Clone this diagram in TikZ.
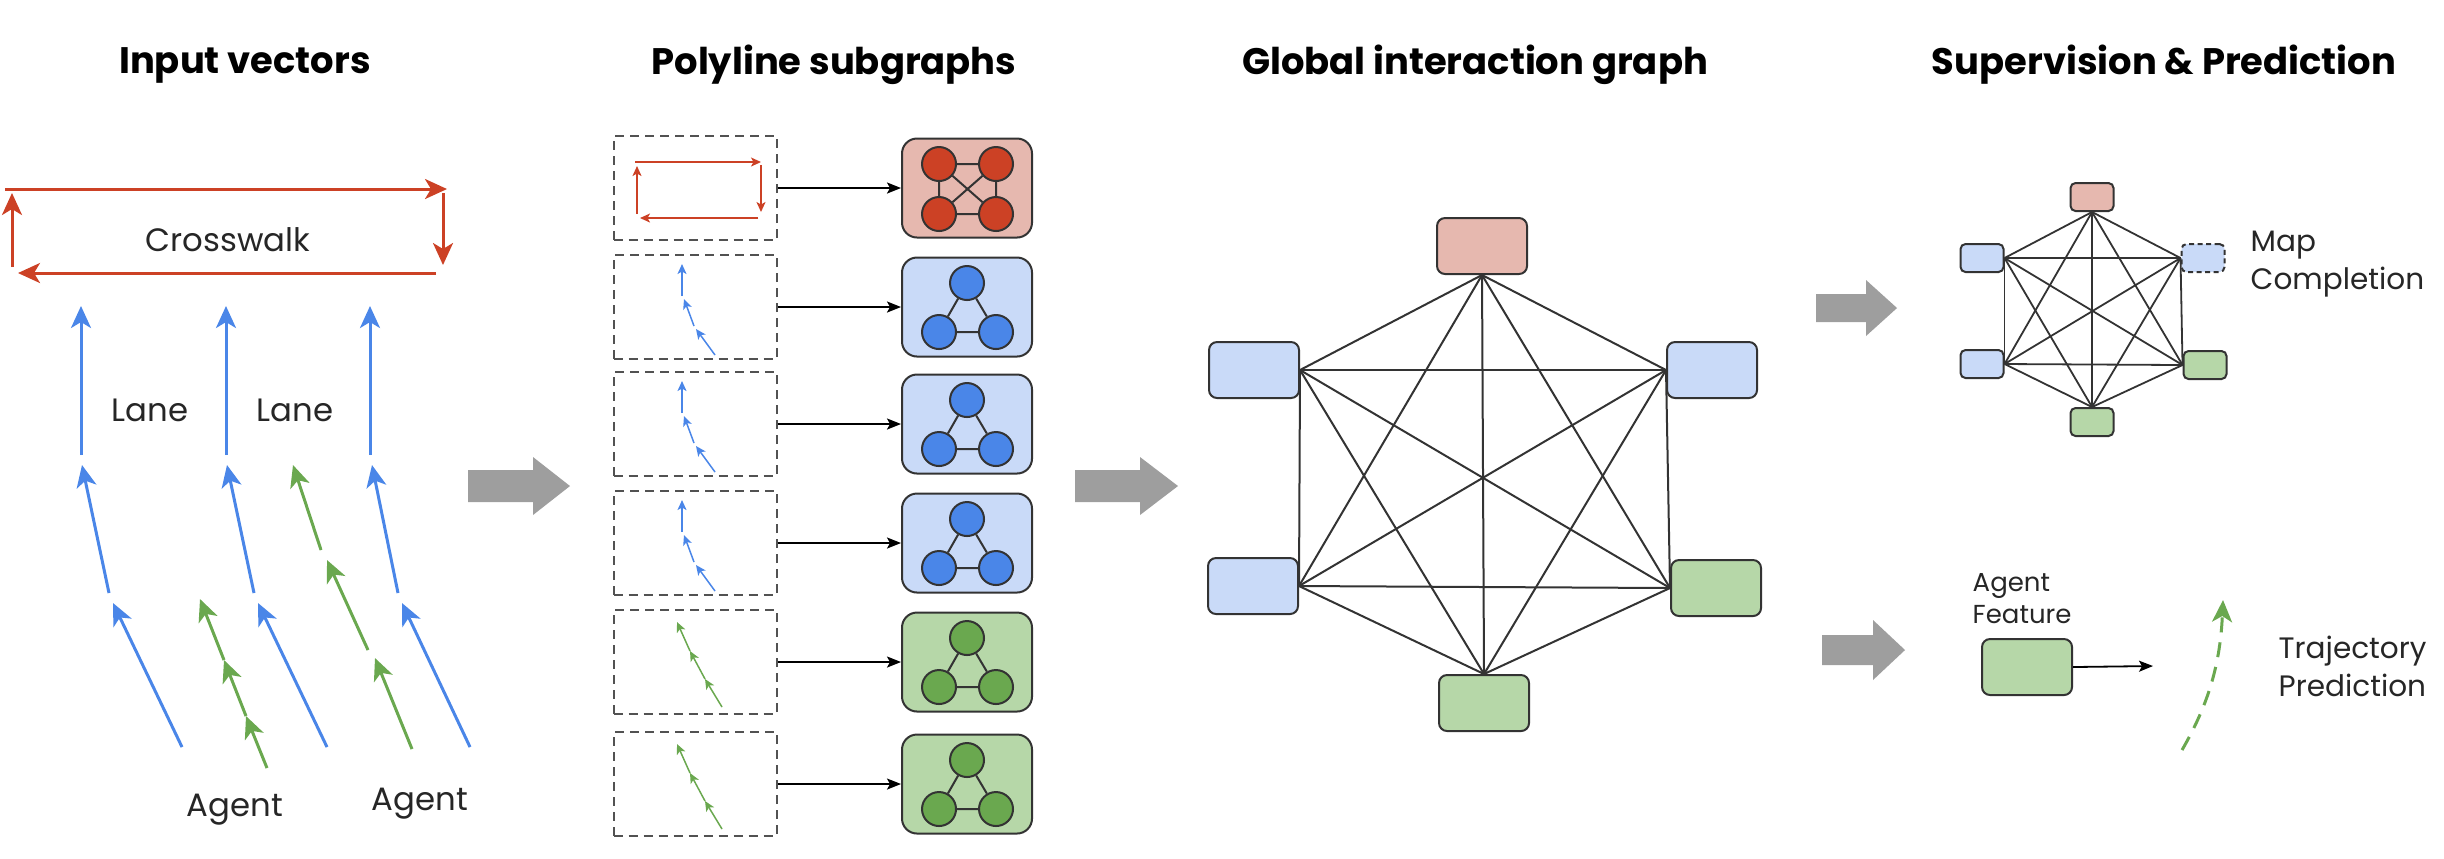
\documentclass[tikz,border=0pt]{standalone}
\usepackage{fontspec}
\setmainfont{Poppins}
\usetikzlibrary{arrows.meta}
\definecolor{cwred}{HTML}{CC4125}
\definecolor{lblue}{HTML}{4A86E8}
\definecolor{agreen}{HTML}{6AA84F}
\definecolor{fred}{HTML}{E6B8AF}
\definecolor{fblue}{HTML}{C9DAF8}
\definecolor{fgreen}{HTML}{B6D7A8}
\definecolor{garrow}{HTML}{9E9E9E}
\definecolor{edgec}{HTML}{333333}
\begin{document}
\begin{tikzpicture}[x=0.1mm,y=-0.1mm,
  vec/.style={line width=0.3mm,-{Stealth[length=2.2mm,width=2mm,inset=0.6mm]}},
  cwvec/.style={vec,draw=cwred,fill=cwred},
  lanevec/.style={vec,draw=lblue,fill=lblue},
  agvec/.style={vec,draw=agreen,fill=agreen},
  svec/.style={line width=0.15mm,-{Stealth[length=1mm,width=0.9mm,inset=0.25mm]}},
  dbox/.style={draw=edgec!85,dashed,dash pattern=on 0.9mm off 0.6mm,line width=0.2mm,minimum width=16.3mm,minimum height=10.4mm,inner sep=0pt},
  sgbox/.style={draw=edgec,line width=0.2mm,rounded corners=1.5mm,minimum width=13mm,minimum height=9.9mm,inner sep=0pt},
  circ/.style={circle,draw=edgec,line width=0.2mm,minimum size=3.4mm,inner sep=0pt},
  gbox/.style={draw=edgec,line width=0.2mm,rounded corners=0.8mm,minimum width=9mm,minimum height=5.6mm,inner sep=0pt},
  sbox/.style={draw=edgec,line width=0.2mm,rounded corners=0.5mm,minimum width=4.3mm,minimum height=2.8mm,inner sep=0pt},
  gedge/.style={draw=edgec,line width=0.2mm},
  conn/.style={draw=black,line width=0.18mm,-{Stealth[length=1.4mm,width=1.1mm,inset=0.3mm]}},
  garr/.style={fill=garrow},
  title/.style={font=\bfseries\fontsize{10.5}{12}\selectfont},
  lbl/.style={font=\fontsize{9.2}{10.5}\selectfont,text=black!85},
  rlbl/.style={font=\fontsize{8.4}{10.8}\selectfont,text=black!85},
  slbl/.style={font=\fontsize{7.4}{8.9}\selectfont,text=black!85}
]
\useasboundingbox (0,0) rectangle (2444,858);

% titles
\node[title] (t1) at (245,65) {Input vectors};
\node[title] (t2) at (834,65) {Polyline subgraphs};
\node[title] (t3) at (1475,65) {Global interaction graph};
\node[title] (t4) at (2164,65) {Supervision \& Prediction};

% ---------- Input vectors ----------
\draw[cwvec] (5,189) -- (447,189);
\draw[cwvec] (443,193) -- (443,265);
\draw[cwvec] (436,273) -- (18,273);
\draw[cwvec] (12,267) -- (12,193);
\node[lbl] (cw) at (228,240) {Crosswalk};

\draw[lanevec] (182,747) -- (113,603);
\draw[lanevec] (109,593) -- (82,465);
\draw[lanevec] (81,455) -- (81,306);
\draw[lanevec] (327,747) -- (258,603);
\draw[lanevec] (254,593) -- (227,465);
\draw[lanevec] (226,455) -- (226,306);
\draw[lanevec] (470,747) -- (402,603);
\draw[lanevec] (398,593) -- (372,465);
\draw[lanevec] (370,455) -- (370,306);

\draw[agvec] (267,768) -- (246,716);
\draw[agvec] (246,716) -- (224,660);
\draw[agvec] (224,660) -- (200,599);
\draw[agvec] (412,749) -- (375,658);
\draw[agvec] (368,650) -- (327,560);
\draw[agvec] (321,550) -- (293,465);

\node[lbl] (ln1) at (150,410) {Lane};
\node[lbl] (ln2) at (295,410) {Lane};
\node[lbl] (ag1) at (235,810) {Agent};
\node[lbl] (ag2) at (420,804) {Agent};

% big arrow 1
\fill[garr] (468,470) -- (533,470) -- (533,457) -- (570,486) -- (533,515) -- (533,502) -- (468,502) -- cycle;

% ---------- Polyline subgraphs ----------
\node[dbox] (d1) at (695,188) {};
\node[dbox] (d2) at (695,307) {};
\node[dbox] (d3) at (695,424) {};
\node[dbox] (d4) at (695,543) {};
\node[dbox] (d5) at (695,662) {};
\node[dbox] (d6) at (695,784) {};

% small crosswalk
\draw[svec,draw=cwred,fill=cwred] (635,162) -- (761,162);
\draw[svec,draw=cwred,fill=cwred] (761,165) -- (761,212);
\draw[svec,draw=cwred,fill=cwred] (758,218) -- (640,218);
\draw[svec,draw=cwred,fill=cwred] (637,214) -- (637,166);
% small lanes
\foreach \c in {307,424,543}{
  \draw[svec,draw=lblue,fill=lblue] (715,\c+48) -- (696,\c+22);
  \draw[svec,draw=lblue,fill=lblue] (694,\c+19) -- (684,\c-8);
  \draw[svec,draw=lblue,fill=lblue] (682,\c-11) -- (682,\c-43);
}
% small agents
\foreach \c in {662,784}{
  \draw[svec,draw=agreen,fill=agreen] (722,\c+45) -- (705,\c+17);
  \draw[svec,draw=agreen,fill=agreen] (705,\c+17) -- (690,\c-11);
  \draw[svec,draw=agreen,fill=agreen] (690,\c-11) -- (677,\c-40);
}

\node[sgbox,fill=fred] (s1) at (967,188) {};
\node[sgbox,fill=fblue] (s2) at (967,307) {};
\node[sgbox,fill=fblue] (s3) at (967,424) {};
\node[sgbox,fill=fblue] (s4) at (967,543) {};
\node[sgbox,fill=fgreen] (s5) at (967,662) {};
\node[sgbox,fill=fgreen] (s6) at (967,784) {};

\foreach \i in {1,...,6}{\draw[conn] (d\i.east) -- (s\i.west);}

% red clique
\node[circ,fill=cwred] (r1) at (939,164) {};
\node[circ,fill=cwred] (r2) at (996,164) {};
\node[circ,fill=cwred] (r3) at (939,214) {};
\node[circ,fill=cwred] (r4) at (996,214) {};
\draw[gedge] (r1) -- (r2) (r3) -- (r4) (r1) -- (r3) (r2) -- (r4) (r1) -- (r4) (r2) -- (r3);
% triangles
\foreach \n/\c/\col in {b/307/lblue,c/424/lblue,d/543/lblue,e/662/agreen,f/784/agreen}{
  \node[circ,fill=\col] (\n1) at (967,\c-24) {};
  \node[circ,fill=\col] (\n2) at (939,\c+25) {};
  \node[circ,fill=\col] (\n3) at (996,\c+25) {};
  \draw[gedge] (\n1) -- (\n2) -- (\n3) -- (\n1);
}

% big arrow 2
\fill[garr] (1075,470) -- (1140,470) -- (1140,457) -- (1178,486) -- (1140,515) -- (1140,502) -- (1075,502) -- cycle;

% ---------- Global interaction graph ----------
\node[gbox,fill=fred] (gT) at (1482,246) {};
\node[gbox,fill=fblue] (gUL) at (1254,370) {};
\node[gbox,fill=fblue] (gUR) at (1712,370) {};
\node[gbox,fill=fblue] (gLL) at (1253,586) {};
\node[gbox,fill=fgreen] (gLR) at (1716,588) {};
\node[gbox,fill=fgreen] (gB) at (1484,703) {};
\coordinate (pT) at (gT.south);
\coordinate (pUL) at (gUL.east);
\coordinate (pUR) at (gUR.west);
\coordinate (pLL) at (gLL.east);
\coordinate (pLR) at (gLR.west);
\coordinate (pB) at (gB.north);
\foreach \a/\b in {pT/pUL,pT/pUR,pT/pLL,pT/pLR,pT/pB,pUL/pUR,pUL/pLL,pUL/pLR,pUL/pB,pUR/pLL,pUR/pLR,pUR/pB,pLL/pLR,pLL/pB,pLR/pB}
  {\draw[gedge] (\a) -- (\b);}

% ---------- Supervision & Prediction ----------
\fill[garr] (1816,294) -- (1866,294) -- (1866,280) -- (1897,308) -- (1866,336) -- (1866,322) -- (1816,322) -- cycle;
\fill[garr] (1822,635) -- (1873,635) -- (1873,620) -- (1905,650) -- (1873,680) -- (1873,665) -- (1822,665) -- cycle;

\node[sbox,fill=fred] (mT) at (2092,197) {};
\node[sbox,fill=fblue] (mUL) at (1982,258) {};
\node[sbox,fill=fblue,dashed,dash pattern=on 0.5mm off 0.35mm] (mUR) at (2203,258) {};
\node[sbox,fill=fblue] (mLL) at (1982,364) {};
\node[sbox,fill=fgreen] (mLR) at (2205,365) {};
\node[sbox,fill=fgreen] (mB) at (2092,422) {};
\coordinate (qT) at (mT.south);
\coordinate (qUL) at (mUL.east);
\coordinate (qUR) at (mUR.west);
\coordinate (qLL) at (mLL.east);
\coordinate (qLR) at (mLR.west);
\coordinate (qB) at (mB.north);
\foreach \a/\b in {qT/qUL,qT/qUR,qT/qLL,qT/qLR,qT/qB,qUL/qUR,qUL/qLL,qUL/qLR,qUL/qB,qUR/qLL,qUR/qLR,qUR/qB,qLL/qLR,qLL/qB,qLR/qB}
  {\draw[gedge,line width=0.18mm] (\a) -- (\b);}
\node[rlbl,align=left,anchor=west,inner sep=0pt] (mc) at (2250,264) {Map\\Completion};

\node[gbox,fill=fgreen] (af) at (2027,667) {};
\node[slbl,align=left,anchor=south west,inner sep=0pt] (aft) at (1972,624) {Agent\\Feature};
\coordinate (afend) at (2153,666);
\draw[conn] (af.east) -- (afend);
\coordinate (tr0) at (2182,750);
\coordinate (tr1) at (2223,600);
\draw[agreen,line width=0.3mm,dash pattern=on 1.5mm off 1mm,-{Stealth[length=2.2mm,width=2mm,inset=0.6mm]}] (tr0) .. controls (2205,710) and (2220,670) .. (tr1);
\node[rlbl,align=left,anchor=west,inner sep=0pt] (tp) at (2278,666) {Trajectory\\Prediction};
\end{tikzpicture}
\end{document}
